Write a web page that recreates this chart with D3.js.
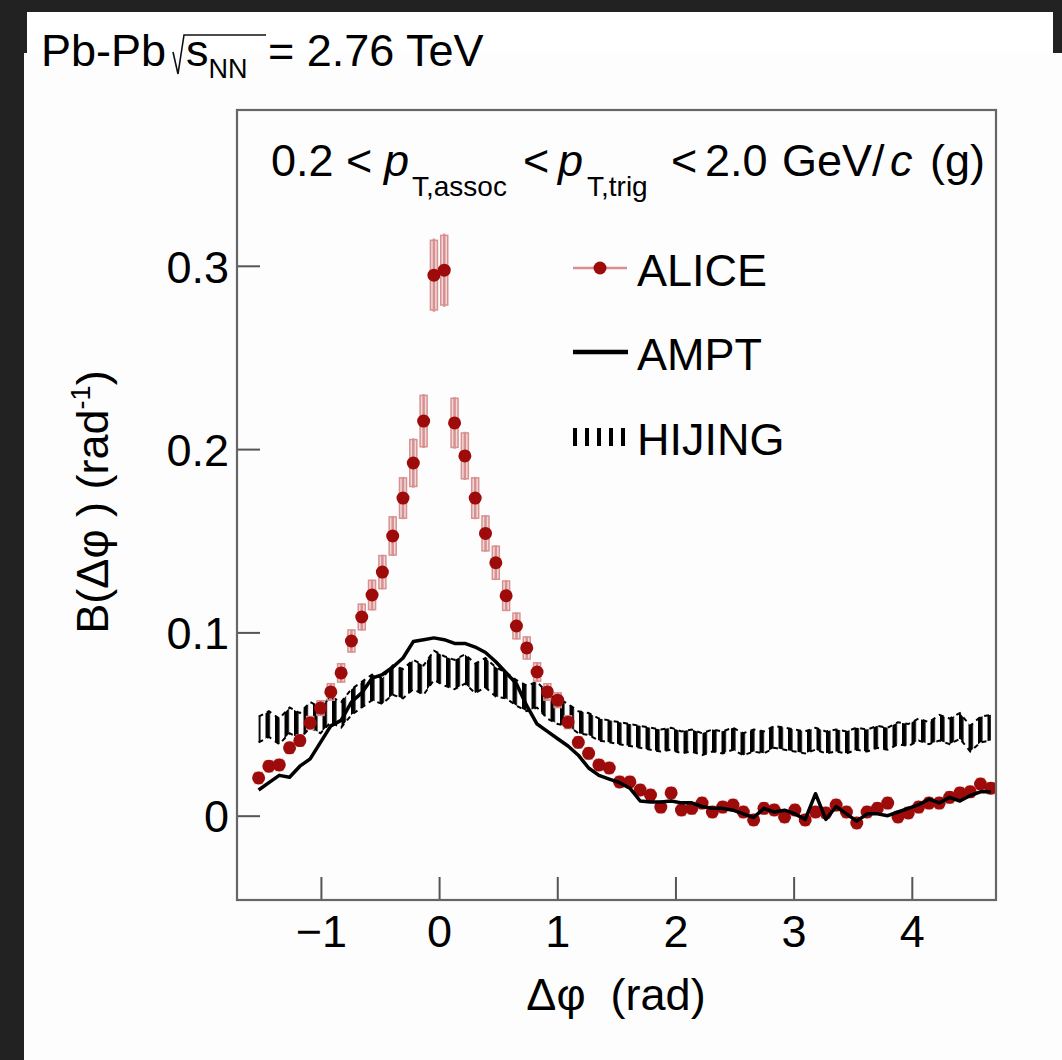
<!DOCTYPE html>
<html>
<head>
<meta charset="utf-8">
<script src="https://cdn.jsdelivr.net/npm/d3@7"></script>
<style>
  body { margin: 0; background: #222; }
  svg { display: block; font-family: "Liberation Sans", Arial, Helvetica, sans-serif; }
</style>
</head>
<body>
<div id="chart"></div>
<script>

// 72 bins of pi/36 from -pi/2 to 3pi/2 (bin centres)
var nBins = 72;
var binWidth = Math.PI / 36;
var dphi = d3.range(nBins).map(i => -Math.PI / 2 + (i + 0.5) * binWidth);

// ALICE balance function values (rad^-1)
var aliceB = [
  0.0206, 0.0270, 0.0277, 0.0370, 0.0410, 0.0506, 0.0587, 0.0675, 0.0779, 0.0953,
  0.1084, 0.1204, 0.1329, 0.1526, 0.1733, 0.1924, 0.2153, 0.2949, 0.2976, 0.2143,
  0.1963, 0.1733, 0.1540, 0.1380, 0.1200, 0.1035, 0.0915, 0.0784, 0.0675, 0.0630,
  0.0510, 0.0400, 0.0340, 0.0277, 0.0260, 0.0184, 0.0184, 0.0140, 0.0113, 0.0047,
  0.0124, 0.0031, 0.0040, 0.0069, 0.0020, 0.0047, 0.0058, 0.0020, -0.0023, 0.0040,
  0.0031, -0.0007, 0.0031, -0.0023, 0.0020, 0.0015, 0.0058, 0.0020, -0.0040, 0.0020,
  0.0040, 0.0069, -0.0007, 0.0015, 0.0047, 0.0069, 0.0069, 0.0100, 0.0124, 0.0130,
  0.0173, 0.0150
];

// ALICE systematic uncertainty (half height of the boxes)
var aliceSys = [
  0.003, 0.003, 0.003, 0.003, 0.003, 0.0035, 0.004, 0.0045, 0.005, 0.006,
  0.007, 0.008, 0.009, 0.0104, 0.011, 0.0128, 0.014, 0.019, 0.019, 0.0134,
  0.0125, 0.011, 0.0095, 0.009, 0.008, 0.007, 0.006, 0.005, 0.0045, 0.004,
  0.0035, 0.003, 0.003, 0.003, 0.003, 0.003, 0.003, 0.003, 0.003, 0.003,
  0.003, 0.003, 0.003, 0.003, 0.003, 0.003, 0.003, 0.003, 0.003, 0.003,
  0.003, 0.003, 0.003, 0.003, 0.003, 0.003, 0.003, 0.003, 0.003, 0.003,
  0.003, 0.003, 0.003, 0.003, 0.003, 0.003, 0.003, 0.003, 0.003, 0.003,
  0.003, 0.003
];

// AMPT model
var amptB = [
  0.014, 0.018, 0.022, 0.021, 0.027, 0.031, 0.040, 0.049, 0.052, 0.062,
  0.067, 0.075, 0.077, 0.081, 0.086, 0.095, 0.096, 0.097, 0.096, 0.094,
  0.094, 0.092, 0.089, 0.084, 0.078, 0.072, 0.060, 0.050, 0.046, 0.042,
  0.038, 0.033, 0.026, 0.022, 0.020, 0.018, 0.015, 0.008, 0.0075, 0.0075,
  0.008, 0.007, 0.007, 0.005, 0.004, 0.004, 0.003, 0.001, -0.001, 0.004,
  0.002, 0.003, 0.001, -0.002, 0.012, -0.002, 0.005, 0.001, -0.003, 0.001,
  0.001, 0.000, 0.002, 0.004, 0.006, 0.009, 0.007, 0.010, 0.008, 0.011,
  0.013, 0.013
];

// HIJING model (centre and half width of band)
var hijingB = [
  0.047, 0.050, 0.046, 0.052, 0.049, 0.055, 0.052, 0.058, 0.055, 0.062,
  0.066, 0.070, 0.068, 0.074, 0.072, 0.077, 0.074, 0.082, 0.079, 0.077,
  0.080, 0.075, 0.078, 0.073, 0.071, 0.067, 0.064, 0.066, 0.060, 0.057,
  0.055, 0.051, 0.050, 0.047, 0.046, 0.045, 0.044, 0.043, 0.042, 0.041,
  0.042, 0.040, 0.041, 0.039, 0.041, 0.040, 0.042, 0.039, 0.041, 0.040,
  0.043, 0.042, 0.041, 0.040, 0.042, 0.040, 0.041, 0.040, 0.042, 0.041,
  0.043, 0.042, 0.045, 0.044, 0.047, 0.045, 0.048, 0.046, 0.049, 0.042,
  0.047, 0.048
];
var hijingErr = [
  0.007, 0.007, 0.007, 0.007, 0.007, 0.007, 0.007, 0.007, 0.007, 0.007,
  0.007, 0.007, 0.007, 0.008, 0.008, 0.008, 0.008, 0.008, 0.008, 0.008,
  0.008, 0.008, 0.008, 0.008, 0.007, 0.007, 0.007, 0.007, 0.007, 0.007,
  0.006, 0.006, 0.006, 0.006, 0.006, 0.006, 0.006, 0.006, 0.006, 0.006,
  0.006, 0.006, 0.006, 0.006, 0.006, 0.006, 0.006, 0.006, 0.006, 0.006,
  0.006, 0.006, 0.006, 0.006, 0.006, 0.006, 0.006, 0.006, 0.006, 0.006,
  0.006, 0.006, 0.006, 0.006, 0.006, 0.006, 0.007, 0.007, 0.007, 0.007,
  0.007, 0.007
];

var xTicks = [-1, 0, 1, 2, 3, 4];
var yTicks = [0, 0.1, 0.2, 0.3];
var legendNames = ["ALICE", "AMPT", "HIJING"];

var svgWidth = 1062;
var svgHeight = 1060;

var margin = {
  top: 110,
  right: 66,
  bottom: 160,
  left: 237
};

var width = svgWidth - margin.left - margin.right;
var height = svgHeight - margin.top - margin.bottom;

var red = "#9e0b0b";
var lightRed = "#d89090";

var svg = d3
  .select("#chart")
  .append("svg")
  .attr("width", svgWidth)
  .attr("height", svgHeight);

// white page pieces on the dark background
svg.append("rect").attr("x", 27).attr("y", 12).attr("width", 1026).attr("height", 45).attr("fill", "#fff");
svg.append("rect").attr("x", 24).attr("y", 53).attr("width", 1038).attr("height", 1007).attr("fill", "#fdfdfd");

var defs = svg.append("defs");
defs.append("pattern")
  .attr("id", "vhatch")
  .attr("patternUnits", "userSpaceOnUse")
  .attr("width", 9.5)
  .attr("height", 20)
  .append("rect")
  .attr("x", 0)
  .attr("y", 0)
  .attr("width", 4.5)
  .attr("height", 20)
  .attr("fill", "#000");

defs.append("clipPath").attr("id", "plotclip")
  .append("rect").attr("width", width).attr("height", height);

var chartGroup = svg.append("g")
  .attr("transform", `translate(${margin.left}, ${margin.top})`);

var xScale = d3.scaleLinear().domain([-1.71, 3 * Math.PI / 2]).range([0, width]);
var yScale = d3.scaleLinear().domain([-0.046, 0.385]).range([height, 0]);

// axes (ticks inside the frame)
var bottomAxis = d3.axisBottom(xScale)
  .tickValues(xTicks)
  .tickSize(-23)
  .tickPadding(15)
  .tickFormat(d => d < 0 ? "\u2212" + Math.abs(d) : String(d));

var leftAxis = d3.axisLeft(yScale)
  .tickValues(yTicks)
  .tickSize(-23)
  .tickPadding(8)
  .tickFormat(d => d === 0 ? "0" : d.toFixed(1));

var xAxis = chartGroup.append("g")
  .attr("transform", `translate(0, ${height})`)
  .call(bottomAxis);

var yAxis = chartGroup.append("g")
  .call(leftAxis);

[xAxis, yAxis].forEach(function(a) {
  a.select(".domain").remove();
  a.selectAll("line").attr("stroke", "#555").attr("stroke-width", 2);
  a.selectAll("text")
    .attr("fill", "#000")
    .style("font-size", "45px")
    .style("font-family", "'Liberation Sans', Arial, sans-serif");
});
yAxis.selectAll("text").attr("dy", "0.36em");

// data layer
var plot = chartGroup.append("g").attr("clip-path", "url(#plotclip)");

// HIJING band with vertical hatching
var hijingArea = d3.area()
  .x((d, i) => xScale(dphi[i]))
  .y0((d, i) => yScale(d - hijingErr[i]))
  .y1((d, i) => yScale(d + hijingErr[i]));

plot.append("path")
  .datum(hijingB)
  .attr("d", hijingArea)
  .attr("fill", "url(#vhatch)");

// ragged edges of the band
[1, -1].forEach(function(s) {
  plot.append("path")
    .datum(hijingB)
    .attr("d", d3.line()
      .x((d, i) => xScale(dphi[i]))
      .y((d, i) => yScale(d + s * hijingErr[i])))
    .attr("fill", "none")
    .attr("stroke", "#000")
    .attr("stroke-width", 2)
    .attr("stroke-dasharray", "5 4.5");
});

// ALICE systematic boxes, stat bars and markers
var alicePts = plot.append("g").selectAll("g")
  .data(aliceB)
  .enter()
  .append("g");

alicePts.append("rect")
  .attr("x", (d, i) => xScale(dphi[i]) - 3.5)
  .attr("y", (d, i) => yScale(d + aliceSys[i]))
  .attr("width", 7)
  .attr("height", (d, i) => yScale(d - aliceSys[i]) - yScale(d + aliceSys[i]))
  .attr("fill", "rgba(205,110,110,0.25)")
  .attr("stroke", lightRed)
  .attr("stroke-width", 1.5);

alicePts.append("line")
  .attr("x1", (d, i) => xScale(dphi[i]))
  .attr("x2", (d, i) => xScale(dphi[i]))
  .attr("y1", (d, i) => yScale(d + aliceSys[i] * 1.05))
  .attr("y2", (d, i) => yScale(d - aliceSys[i] * 1.05))
  .attr("stroke", lightRed)
  .attr("stroke-width", 2.5);

alicePts.append("circle")
  .attr("cx", (d, i) => xScale(dphi[i]))
  .attr("cy", d => yScale(d))
  .attr("r", 6.5)
  .attr("fill", red);

// AMPT line
var amptLine = d3.line()
  .x((d, i) => xScale(dphi[i]))
  .y(d => yScale(d));

plot.append("path")
  .datum(amptB)
  .attr("d", amptLine)
  .attr("fill", "none")
  .attr("stroke", "#000")
  .attr("stroke-width", 3.5)
  .attr("stroke-linejoin", "round");

// frame
chartGroup.append("rect")
  .attr("width", width)
  .attr("height", height)
  .attr("fill", "none")
  .attr("stroke", "#666")
  .attr("stroke-width", 2.2);

// legend
var legend = svg.append("g");
var legY = [268, 352, 437];

legend.append("line")
  .attr("x1", 573).attr("x2", 627)
  .attr("y1", legY[0]).attr("y2", legY[0])
  .attr("stroke", lightRed).attr("stroke-width", 2.5);
legend.append("circle")
  .attr("cx", 600).attr("cy", legY[0]).attr("r", 6.5).attr("fill", red);

legend.append("line")
  .attr("x1", 573).attr("x2", 628)
  .attr("y1", legY[1]).attr("y2", legY[1])
  .attr("stroke", "#000").attr("stroke-width", 4.5);

legend.selectAll("rect.hl")
  .data(d3.range(5))
  .enter()
  .append("rect")
  .attr("class", "hl")
  .attr("x", d => 573 + d * 12)
  .attr("y", legY[2] - 9)
  .attr("width", 4)
  .attr("height", 18)
  .attr("fill", "#000");

legend.selectAll("text")
  .data(legendNames)
  .enter()
  .append("text")
  .attr("x", 637)
  .attr("y", (d, i) => legY[i] + 18)
  .style("font-size", "45px")
  .text(d => d);

// header inside the frame, pieces placed like the original
var header = svg.append("text")
  .attr("y", 176)
  .style("font-size", "45px");
header.append("tspan").attr("x", 271).text("0.2 <");
header.append("tspan").attr("x", 384).style("font-style", "italic").text("p");
header.append("tspan").attr("x", 412).attr("dy", 20).style("font-size", "28px").text("T,assoc");
header.append("tspan").attr("x", 523).attr("dy", -20).text("<");
header.append("tspan").attr("x", 558).style("font-style", "italic").text("p");
header.append("tspan").attr("x", 587).attr("dy", 20).style("font-size", "28px").text("T,trig");
header.append("tspan").attr("x", 671).attr("dy", -20).text("<");
header.append("tspan").attr("x", 705).text("2.0");
header.append("tspan").attr("x", 782).text("GeV/");
header.append("tspan").attr("x", 890).style("font-style", "italic").text("c");
header.append("tspan").attr("x", 930).text("(g)");

// top title
var title = svg.append("text")
  .attr("x", 41)
  .attr("y", 66)
  .style("font-size", "45px");
title.append("tspan").text("Pb-Pb");
title.append("tspan").attr("x", 186).text("s");
title.append("tspan").attr("dy", 12).style("font-size", "27px").text("NN");
title.append("tspan").attr("x", 268).attr("dy", -12).text("= 2.76 TeV");

svg.append("path")
  .attr("d", "M173,52 L178,74 L184,35 L266,35")
  .attr("fill", "none")
  .attr("stroke", "#111")
  .attr("stroke-width", 1.6);

// axis titles
svg.append("text")
  .attr("x", 616)
  .attr("y", 1010)
  .attr("text-anchor", "middle")
  .style("font-size", "45px")
  .style("white-space", "pre")
  .text("\u0394\u03c6  (rad)");

var ylab = svg.append("text")
  .attr("transform", "translate(108, 502) rotate(-90)")
  .attr("text-anchor", "middle")
  .style("font-size", "45px")
  .style("white-space", "pre");
ylab.append("tspan").text("B(\u0394\u03c6 ) (rad");
ylab.append("tspan").attr("dy", -18).style("font-size", "27px").text("-1");
ylab.append("tspan").attr("dy", 18).text(")");

</script>
</body>
</html>
